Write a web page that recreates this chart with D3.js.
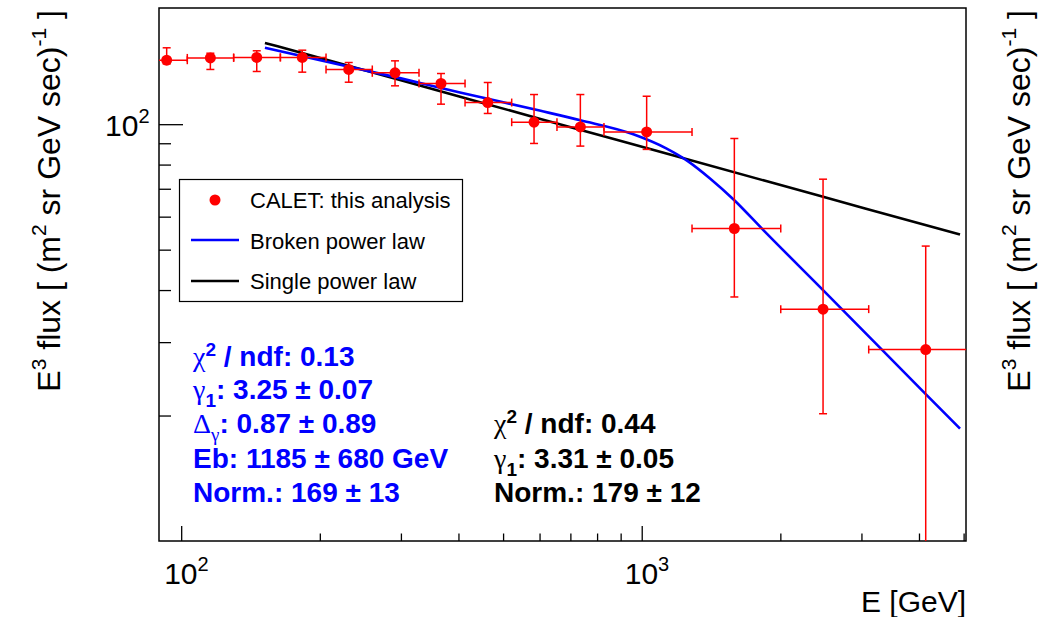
<!DOCTYPE html>
<html>
<head>
<meta charset="utf-8">
<script src="https://cdn.jsdelivr.net/npm/d3@7"></script>
<style>
  body { margin: 0; background: #fff; }
  text { font-family: "Liberation Sans", Arial, Helvetica, sans-serif; }
</style>
</head>
<body>
<svg id="chart" width="1039" height="617"></svg>
<script>
// data points
var energy     = [93, 115.7, 145.9, 183.2, 231.1, 291.3, 366.6, 463.1, 583.7, 735.8, 1025, 1589, 2476, 4137];
var energyLow  = [82, 103.1, 130.0, 164.2, 206.3, 260.0, 328.4, 413.4, 522.0, 654.6, 828, 1286, 2004, 3111];
var energyHigh = [103.1, 130.0, 164.2, 206.3, 260.0, 328.4, 413.4, 522.0, 654.6, 828, 1286, 2004, 3111, 5600];
var flux     = [142.4, 144.2, 144.6, 144.6, 135.3, 132.8, 125.2, 112.7, 101.1, 98.5, 95.8, 56.2, 36.0, 28.8];
var fluxLow  = [139.5, 135.3, 133.8, 133.3, 126.1, 123.6, 111.7, 106.1, 89.9, 88.6, 87.0, 38.5, 20.2, 4];
var fluxHigh = [152.5, 148.0, 150.0, 150.5, 140.6, 141.9, 132.3, 125.9, 117.8, 117.8, 116.7, 92.4, 73.8, 51.0];

// fit curves
var brokenE = [152, 300, 403, 600, 736, 959, 1133, 1252, 1407, 1589, 1837, 2476, 4137, 4911];
var brokenF = [152.5, 128.8, 119.2, 107.8, 102.2, 94.6, 87.4, 81.9, 74.1, 65.7, 55.7, 40.0, 22.5, 18.6];
var singleE = [152, 300, 600, 1200, 2400, 4911];
var singleF = [156.7, 127.4, 103.1, 83.5, 67.6, 54.35];

// axis ticks
var xMajor = [100, 1000];
var xMinor = [200, 300, 400, 500, 600, 700, 800, 900, 2000, 3000, 4000, 5000];
var yMajor = [100];
var yMinor = [20, 30, 40, 50, 60, 70, 80, 90];

var frameL = 159, frameR = 966, frameT = 8, frameB = 541;
var svg = d3.select("#chart");

var x = d3.scaleLog().domain([89.5, 5060]).range([frameL, frameR]);
var y = d3.scaleLog().domain([10, 190]).range([frameB, frameT]);

svg.append("defs").append("clipPath").attr("id", "frameClip")
  .append("rect").attr("x", frameL).attr("y", frameT)
  .attr("width", frameR - frameL).attr("height", frameB - frameT);

// ticks
function tickAxis(axis, vals, size, transform) {
  var g = svg.append("g").attr("transform", transform)
    .call(axis.tickValues(vals).tickSize(size).tickFormat(""));
  g.select(".domain").remove();
  g.selectAll("line").attr("stroke", "#000").attr("stroke-width", 1.3);
}
tickAxis(d3.axisBottom(x), xMajor, -15, "translate(0," + frameB + ")");
tickAxis(d3.axisBottom(x), xMinor.filter(function (d) { return x(d) < frameR - 1; }), -7.5, "translate(0," + frameB + ")");
tickAxis(d3.axisLeft(y), yMajor, -24, "translate(" + frameL + ",0)");
tickAxis(d3.axisLeft(y), yMinor, -12, "translate(" + frameL + ",0)");

// frame
svg.append("rect").attr("x", frameL).attr("y", frameT)
  .attr("width", frameR - frameL).attr("height", frameB - frameT)
  .attr("fill", "none").attr("stroke", "#000").attr("stroke-width", 1.5);

// tick labels
xMajor.forEach(function (v) {
  var t = svg.append("text").attr("x", x(v) - 17).attr("y", 584).attr("font-size", 30).attr("fill", "#000");
  t.append("tspan").text("10");
  t.append("tspan").attr("dy", -13).attr("font-size", 20).text(Math.round(Math.log10(v)));
});
yMajor.forEach(function (v) {
  var t = svg.append("text").attr("x", 105).attr("y", y(v) + 12).attr("font-size", 30).attr("fill", "#000");
  t.append("tspan").text("10");
  t.append("tspan").attr("dy", -13).attr("font-size", 20).text(Math.round(Math.log10(v)));
});

// axis titles
svg.append("text").attr("x", 966).attr("y", 612).attr("text-anchor", "end")
  .attr("font-size", 30).text("E [GeV]");

function yTitle(bx) {
  var t = svg.append("text").attr("transform", "translate(" + bx + ",10) rotate(-90)")
    .attr("text-anchor", "end").attr("font-size", 32).attr("fill", "#000");
  t.append("tspan").text("E");
  t.append("tspan").attr("dy", -14).attr("font-size", 21).text("3");
  t.append("tspan").attr("dy", 14).text(" flux [ (m");
  t.append("tspan").attr("dy", -14).attr("font-size", 21).text("2");
  t.append("tspan").attr("dy", 14).text(" sr GeV sec)");
  t.append("tspan").attr("dy", -14).attr("font-size", 21).text("-1");
  t.append("tspan").attr("dy", 14).text(" ]");
}
yTitle(60);
yTitle(1030);

// fit lines
var line = d3.line()
  .x(function (d) { return x(d[0]); })
  .y(function (d) { return y(d[1]); })
  .curve(d3.curveMonotoneX);

var plot = svg.append("g").attr("clip-path", "url(#frameClip)");

plot.append("path").datum(singleE.map(function (e, i) { return [e, singleF[i]]; }))
  .attr("d", line).attr("fill", "none").attr("stroke", "#000").attr("stroke-width", 2.6);
plot.append("path").datum(brokenE.map(function (e, i) { return [e, brokenF[i]]; }))
  .attr("d", line).attr("fill", "none").attr("stroke", "#0000ff").attr("stroke-width", 2.6);

// data points with error bars
var red = "#ff0000", cap = 4;
var pts = plot.selectAll(".pt").data(energy).enter().append("g").attr("class", "pt");
pts.append("line")
  .attr("x1", function (d, i) { return x(energyLow[i]); })
  .attr("x2", function (d, i) { return x(energyHigh[i]); })
  .attr("y1", function (d, i) { return y(flux[i]); })
  .attr("y2", function (d, i) { return y(flux[i]); })
  .attr("stroke", red).attr("stroke-width", 1.5);
pts.append("line")
  .attr("x1", function (d) { return x(d); })
  .attr("x2", function (d) { return x(d); })
  .attr("y1", function (d, i) { return y(fluxLow[i]); })
  .attr("y2", function (d, i) { return y(fluxHigh[i]); })
  .attr("stroke", red).attr("stroke-width", 1.5);
[energyLow, energyHigh].forEach(function (arr) {
  pts.append("line")
    .attr("x1", function (d, i) { return x(arr[i]); })
    .attr("x2", function (d, i) { return x(arr[i]); })
    .attr("y1", function (d, i) { return y(flux[i]) - cap; })
    .attr("y2", function (d, i) { return y(flux[i]) + cap; })
    .attr("stroke", red).attr("stroke-width", 1.5);
});
[fluxLow, fluxHigh].forEach(function (arr) {
  pts.append("line")
    .attr("x1", function (d) { return x(d) - cap; })
    .attr("x2", function (d) { return x(d) + cap; })
    .attr("y1", function (d, i) { return y(arr[i]); })
    .attr("y2", function (d, i) { return y(arr[i]); })
    .attr("stroke", red).attr("stroke-width", 1.5);
});
pts.append("circle")
  .attr("cx", function (d) { return x(d); })
  .attr("cy", function (d, i) { return y(flux[i]); })
  .attr("r", 5.5).attr("fill", red);

// legend
var lg = svg.append("g");
lg.append("rect").attr("x", 179.5).attr("y", 179.5).attr("width", 283).attr("height", 122)
  .attr("fill", "#fff").attr("stroke", "#000").attr("stroke-width", 1.2);
lg.append("circle").attr("cx", 215).attr("cy", 200).attr("r", 5.5).attr("fill", red);
lg.append("line").attr("x1", 191).attr("x2", 239).attr("y1", 240).attr("y2", 240)
  .attr("stroke", "#0000ff").attr("stroke-width", 2.6);
lg.append("line").attr("x1", 191).attr("x2", 239).attr("y1", 281).attr("y2", 281)
  .attr("stroke", "#000").attr("stroke-width", 2.6);
var legendText = ["CALET: this analysis", "Broken power law", "Single power law"];
legendText.forEach(function (s, i) {
  lg.append("text").attr("x", 250).attr("y", 208 + i * 40.5).attr("font-size", 22).text(s);
});

// fit statistics
function statLine(px, py, color, parts) {
  var t = svg.append("text").attr("x", px).attr("y", py).attr("font-size", 28)
    .attr("font-weight", "bold").attr("fill", color);
  var shift = 0;
  parts.forEach(function (p) {
    var ts = t.append("tspan").text(p.t);
    var want = p.sup ? -10 : (p.sub ? 8 : 0);
    if (want !== shift) { ts.attr("dy", want - shift); shift = want; }
    if (p.sup || p.sub) ts.attr("font-size", 19);
    if (p.greek) ts.attr("font-family", "'Liberation Serif', serif").attr("font-weight", "normal");
  });
}
var blue = "#0000ff";
statLine(193, 366, blue, [{t: "\u03c7", greek: 1}, {t: "2", sup: 1}, {t: " / ndf: 0.13"}]);
statLine(193, 399, blue, [{t: "\u03b3", greek: 1}, {t: "1", sub: 1}, {t: ": 3.25 \u00b1 0.07"}]);
statLine(193, 433, blue, [{t: "\u0394", greek: 1}, {t: "\u03b3", sub: 1, greek: 1}, {t: ": 0.87  \u00b1 0.89"}]);
statLine(193, 468, blue, [{t: "Eb: 1185  \u00b1 680 GeV"}]);
statLine(193, 502, blue, [{t: "Norm.: 169  \u00b1 13"}]);
statLine(494, 433, "#000", [{t: "\u03c7", greek: 1}, {t: "2", sup: 1}, {t: " / ndf: 0.44"}]);
statLine(494, 468, "#000", [{t: "\u03b3", greek: 1}, {t: "1", sub: 1}, {t: ": 3.31 \u00b1 0.05"}]);
statLine(494, 502, "#000", [{t: "Norm.: 179  \u00b1 12"}]);
</script>
</body>
</html>
